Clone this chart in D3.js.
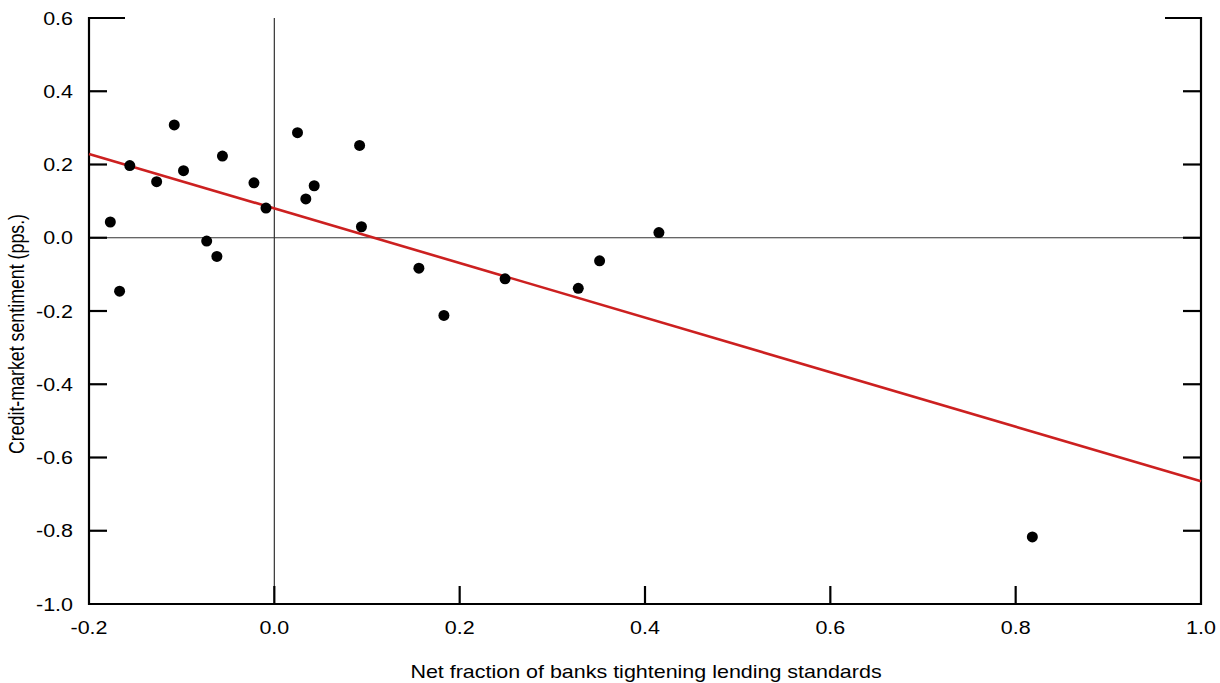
<!DOCTYPE html>
<html><head><meta charset="utf-8">
<script src="https://cdn.jsdelivr.net/npm/d3@7"></script>
<style>body{margin:0;background:#fff}svg{display:block}text{font-family:"Liberation Sans",Arial,sans-serif;fill:#000}</style>
</head><body><svg id="c" width="1220" height="683"></svg>
<script>
const xVals = [-0.177,-0.167,-0.156,-0.127,-0.108,-0.098,-0.073,-0.062,-0.056,-0.022,-0.009,0.025,0.034,0.043,0.092,0.094,0.156,0.183,0.249,0.328,0.351,0.415,0.818];
const yVals = [0.043,-0.146,0.197,0.153,0.308,0.183,-0.009,-0.051,0.223,0.150,0.081,0.287,0.106,0.142,0.252,0.030,-0.083,-0.212,-0.112,-0.138,-0.063,0.014,-0.817];
const fitIntercept = 0.080;
const fitSlope = -0.745;
const xTicks = [-0.2,0,0.2,0.4,0.6,0.8,1.0];
const yTicks = [0.6,0.4,0.2,0,-0.2,-0.4,-0.6,-0.8,-1.0];
const xTitle = "Net fraction of banks tightening lending standards";
const yTitle = "Credit-market sentiment (pps.)";

const svg = d3.select("#c");
const L=89,R=1201,T=18,B=604;
const x = d3.scaleLinear().domain([-0.2,1.0]).range([L,R]);
const y = d3.scaleLinear().domain([-1.0,0.6]).range([B,T]);
const fmt = v => d3.format(".1f")(v).replace("\u2212","-");
const sx = 1.18, fs = 18.2;

// zero lines
svg.append("line").attr("x1",x(0)).attr("x2",x(0)).attr("y1",T).attr("y2",B).attr("stroke","#333").attr("stroke-width",1.2);
svg.append("line").attr("x1",L).attr("x2",R).attr("y1",y(0)).attr("y2",y(0)).attr("stroke","#333").attr("stroke-width",1.2);

// frame
const ax = svg.append("g").attr("stroke","#000").attr("stroke-width",2.2).attr("fill","none");
ax.append("line").attr("x1",L).attr("x2",L).attr("y1",T-1).attr("y2",B+1);
ax.append("line").attr("x1",R).attr("x2",R).attr("y1",T-1).attr("y2",B+1);
ax.append("line").attr("x1",L-1).attr("x2",R+1).attr("y1",B).attr("y2",B);
ax.append("line").attr("x1",L).attr("x2",L+36).attr("y1",T).attr("y2",T);
ax.append("line").attr("x1",R-36).attr("x2",R).attr("y1",T).attr("y2",T);
yTicks.filter(v=>v!==0.6 && v!==-1.0).forEach(v=>{
  ax.append("line").attr("x1",L).attr("x2",L+18).attr("y1",y(v)).attr("y2",y(v));
  ax.append("line").attr("x1",R-18).attr("x2",R).attr("y1",y(v)).attr("y2",y(v));
});
xTicks.filter(v=>v!==-0.2 && v!==1.0).forEach(v=>{
  ax.append("line").attr("x1",x(v)).attr("x2",x(v)).attr("y1",B).attr("y2",B-18);
});

// labels
yTicks.forEach(v=>{
  svg.append("text").attr("transform",`translate(${73},${y(v)+6.5}) scale(${sx},1)`)
    .attr("text-anchor","end").attr("font-size",fs).text(fmt(v));
});
xTicks.forEach(v=>{
  svg.append("text").attr("transform",`translate(${x(v)},${634}) scale(${sx},1)`)
    .attr("text-anchor","middle").attr("font-size",fs).text(fmt(v));
});
svg.append("text").attr("transform",`translate(${646},${678}) scale(${sx},1)`)
  .attr("text-anchor","middle").attr("font-size",fs).text(xTitle);
svg.append("text").attr("transform",`translate(24,334) scale(1.25,1) rotate(-90)`)
  .attr("text-anchor","middle").attr("font-size",17.8).text(yTitle);

// fit line
svg.append("line").attr("x1",x(-0.2)).attr("y1",y(fitIntercept+fitSlope*-0.2))
  .attr("x2",x(1.0)).attr("y2",y(fitIntercept+fitSlope*1.0))
  .attr("stroke","#cc2020").attr("stroke-width",2.6);

// points
svg.append("g").selectAll("circle").data(xVals.map((d,i)=>[d,yVals[i]])).join("circle")
  .attr("cx",d=>x(d[0])).attr("cy",d=>y(d[1])).attr("r",5.5).attr("fill","#000");
</script></body></html>
